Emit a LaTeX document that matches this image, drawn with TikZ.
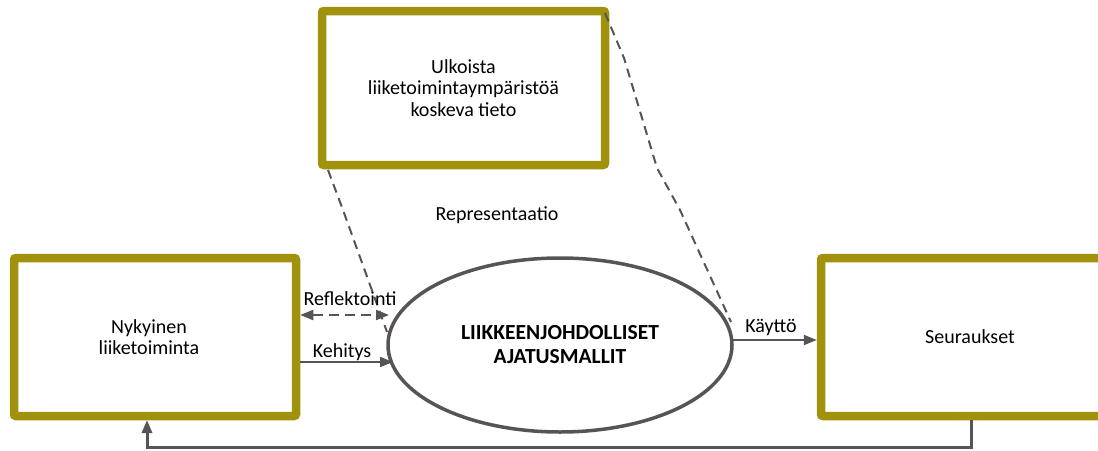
\documentclass[tikz,border=0pt]{standalone}
\usepackage{fontspec}
\setmainfont{Carlito}
\usetikzlibrary{arrows.meta,shapes.geometric}
\definecolor{olive}{HTML}{A0920C}
\definecolor{darkgray}{HTML}{585456}
\tikzset{
  framebox/.style={draw=olive, line width=8.5pt, fill=white, rounded corners=2pt,
    inner sep=0pt, align=center, font=\fontsize{20}{21.5}\selectfont},
  model/.style={draw=darkgray, line width=3.5pt, ellipse, fill=white, inner sep=0pt,
    align=center, font=\fontsize{21.5}{24}\selectfont\bfseries},
  link/.style={draw=darkgray, line width=2pt, -{Triangle[length=13pt,width=10pt]}},
  dlink/.style={link, dash pattern=on 10pt off 6pt, {Triangle[length=13pt,width=10pt]}-{Triangle[length=13pt,width=10pt]}},
  guide/.style={draw=darkgray, line width=2pt, dash pattern=on 9pt off 6pt},
  lbl/.style={font=\fontsize{20}{21.5}\selectfont, inner sep=1pt}
}
\begin{document}
\begin{tikzpicture}[x=1pt, y=-1pt]
\useasboundingbox (0,0) rectangle (1098,450);
\begin{scope}
\clip (0,0) rectangle (1098,450);
% boxes
\node[framebox, minimum width=282pt, minimum height=158pt] (nyk) at (155,337) {\hspace*{-12pt}Nykyinen\\\hspace*{-12pt}liiketoiminta};
\node[framebox, minimum width=300pt, minimum height=158pt] (seur) at (971,337) {\hspace*{-2pt}Seuraukset};
\node[framebox, minimum width=283pt, minimum height=154pt] (ulk) at (463.5,88) {Ulkoista\\liiketoimintaympäristöä\\koskeva tieto};
% central mental model
\node[model, minimum width=344pt, minimum height=174pt] (malli) at (560,345) {LIIKKEENJOHDOLLISET\\AJATUSMALLIT};

% dashed guide lines from the information box
\coordinate (g1a) at (328,170);
\coordinate (g1b) at (343,210);
\coordinate (g1c) at (387,332);
\coordinate (g2a) at (605,13);
\coordinate (g2b) at (624,58);
\coordinate (g2c) at (657,168);
\coordinate (g2d) at (680,210);
\coordinate (g2e) at (731,322);
\draw[guide] (g1a) -- (g1b) -- (g1c);
\draw[guide] (g2a) -- (g2b) -- (g2c) -- (g2d) -- (g2e);

% connectors
\coordinate (r1) at (nyk.east |- 0,315);
\coordinate (r2) at (389,315);
\draw[dlink] (r1) -- (r2);
\coordinate (k1) at (nyk.east |- 0,362);
\coordinate (k2) at (393,362);
\draw[link] (k1) -- (k2);
\coordinate (u1) at (732,340);
\coordinate (u2) at (seur.west |- 0,340);
\draw[link] (u1) -- (u2);
\coordinate (f1) at (971,420);
\coordinate (f2) at (147,420);
\draw[link, line width=3pt] (f1) -- (971,447) -- (147,447) -- (f2);

% labels
\node[lbl] (lref) at (350,299) {Reflektointi};
\node[lbl] (lkeh) at (342,352) {Kehitys};
\node[lbl] (lkay) at (771,327) {Käyttö};
\node[lbl] (lrep) at (497,215) {Representaatio};
\end{scope}
\end{tikzpicture}
\end{document}
